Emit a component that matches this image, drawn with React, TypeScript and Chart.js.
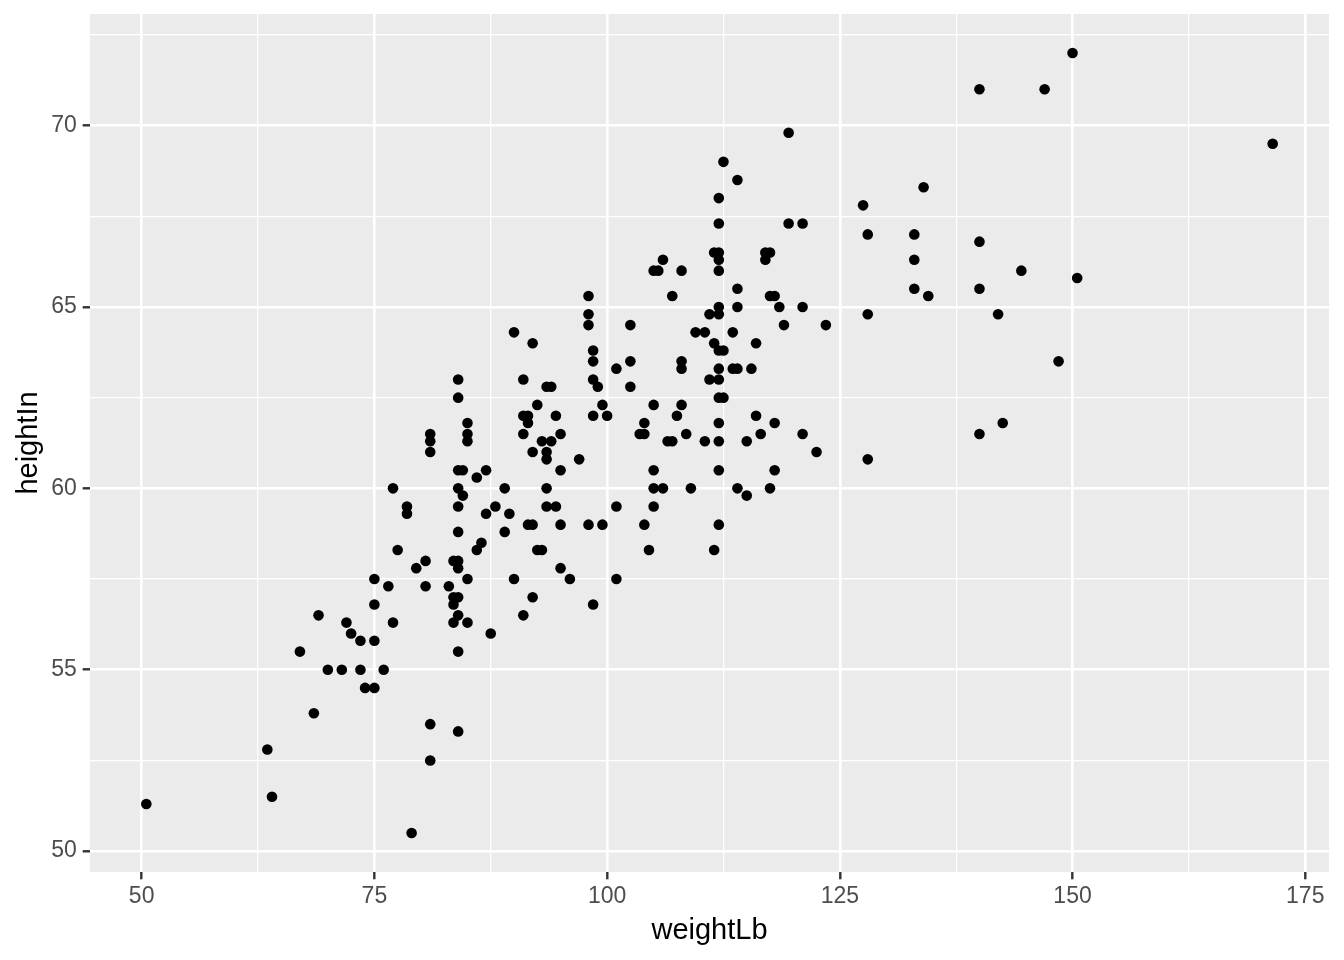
import React, { useEffect, useRef } from 'react';
import { Chart, registerables } from 'chart.js';

Chart.register(...registerables);

const weightLb: number[] = [
  50.5, 63.5, 64, 67, 68.5, 69, 70, 71.5, 72, 72.5, 73.5, 73.5, 74, 75, 75, 75, 75, 76, 76.5, 77,
  77, 77.5, 78.5, 78.5, 79, 79.5, 80.5, 80.5, 81, 81, 81, 81, 81,
  84, 84, 85, 85, 85, 84, 84.5, 87, 86, 84, 84.5, 89, 84, 88, 87, 89.5, 84, 89, 86.5, 86,
  83.5, 84, 84, 85, 83, 83.5, 84, 83.5, 84, 83.5, 85, 87.5, 84, 84,
  98, 98, 98, 90, 92, 98.5, 98.5, 101, 91, 98.5, 93.5, 94, 99, 92.5, 99.5, 91, 91.5, 91.5, 94.5, 98.5,
  100, 91, 95, 93, 94,
  92, 93.5, 93.5, 97, 95, 93.5, 93.5, 94.5, 101, 91.5, 92, 95, 98, 99.5, 92.5, 93, 95, 90, 96, 101,
  92, 98.5, 91,
  106, 105, 105.5, 108, 107, 102.5, 109.5, 110.5, 102.5, 108, 108, 102.5, 105, 108, 107.5, 104, 103.5, 104, 108.5, 106.5,
  107, 110.5, 105, 105, 106, 109, 105, 104, 104.5,
  119.5, 112.5, 114, 112, 112, 119.5, 121, 111.5, 112, 112, 117, 117.5, 117, 112, 114, 117.5, 118, 112, 114, 118.5,
  121, 111, 112, 119, 123.5, 113.5, 111.5, 116,
  112, 112.5, 112, 113.5, 114, 115.5, 111, 112, 112, 112.5, 116, 112, 118, 116.5, 121, 112, 115, 122.5, 112, 118,
  114, 115, 117.5, 112, 111.5,
  150, 140, 147, 134, 127.5, 128, 133, 140, 133, 144.5, 150.5, 133, 134.5, 140, 128, 142, 148.5, 142.5, 140, 128,
  171.5,
];

const heightIn: number[] = [
  51.3, 52.8, 51.5, 55.5, 53.8, 56.5, 55, 55, 56.3, 56, 55.8, 55, 54.5, 54.5, 55.8, 56.8, 57.5, 55, 57.3, 56.3,
  60, 58.3, 59.5, 59.3, 50.5, 57.8, 58, 57.3, 61.5, 61.3, 61, 53.5, 52.5,
  63, 62.5, 61.8, 61.5, 61.3, 60.5, 60.5, 60.5, 60.3, 60, 59.8, 60, 59.5, 59.5, 59.3, 59.3, 58.8, 58.8, 58.5, 58.3,
  58, 58, 57.8, 57.5, 57.3, 57, 57, 56.8, 56.5, 56.3, 56.3, 56, 55.5, 53.3,
  65.3, 64.8, 64.5, 64.3, 64, 63.8, 63.5, 63.3, 63, 63, 62.8, 62.8, 62.8, 62.3, 62.3, 62, 62, 61.8, 62, 62,
  62, 61.5, 61.5, 61.3, 61.3,
  61, 61, 60.8, 60.8, 60.5, 60, 59.5, 59.5, 59.5, 59, 59, 59, 59, 59, 58.3, 58.3, 57.8, 57.5, 57.5, 57.5,
  57, 56.8, 56.5,
  66.3, 66, 66, 66, 65.3, 64.5, 64.3, 64.3, 63.5, 63.5, 63.3, 62.8, 62.3, 62.3, 62, 61.8, 61.5, 61.5, 61.5, 61.3,
  61.3, 61.3, 60.5, 60, 60, 60, 59.5, 59, 58.3,
  69.8, 69, 68.5, 68, 67.3, 67.3, 67.3, 66.5, 66.5, 66.3, 66.5, 66.5, 66.3, 66, 65.5, 65.3, 65.3, 65, 65, 65,
  65, 64.8, 64.8, 64.5, 64.5, 64.3, 64, 64,
  63.8, 63.8, 63.3, 63.3, 63.3, 63.3, 63, 63, 62.5, 62.5, 62, 61.8, 61.8, 61.5, 61.5, 61.3, 61.3, 61, 60.5, 60.5,
  60, 59.8, 60, 59, 58.3,
  72, 71, 71, 68.3, 67.8, 67, 67, 66.8, 66.3, 66, 65.8, 65.5, 65.3, 65.5, 64.8, 64.8, 63.5, 61.8, 61.5, 60.8,
  69.5,
];

const xBreaks: number[] = [50, 62.5, 75, 87.5, 100, 112.5, 125, 137.5, 150, 162.5, 175];
const xMajor: number[] = [50, 75, 100, 125, 150, 175];
const yBreaks: number[] = [50, 52.5, 55, 57.5, 60, 62.5, 65, 67.5, 70, 72.5];
const yMajor: number[] = [50, 55, 60, 65, 70];

const xTitle = 'weightLb';
const yTitle = 'heightIn';

function expandRange(values: number[]): [number, number] {
  const lo = Math.min(...values);
  const hi = Math.max(...values);
  const pad = (hi - lo) * 0.05;
  return [lo - pad, hi + pad];
}

const panelBg = {
  id: 'panelBg',
  beforeDraw(chart: any) {
    const { ctx, chartArea } = chart;
    if (!chartArea) return;
    ctx.save();
    ctx.fillStyle = '#EBEBEB';
    ctx.fillRect(chartArea.left, chartArea.top, chartArea.right - chartArea.left, chartArea.bottom - chartArea.top);
    ctx.restore();
  },
};

export default function App() {
  const ref = useRef<HTMLCanvasElement | null>(null);

  useEffect(() => {
    if (!ref.current) return;
    Chart.defaults.font.family = '"Liberation Sans", Arial, sans-serif';
    const [xMin, xMax] = expandRange(weightLb);
    const [yMin, yMax] = expandRange(heightIn);
    const points = weightLb.map((w, i) => ({ x: w, y: heightIn[i] }));

    const gridFor = (major: number[]) => ({
      color: '#FFFFFF',
      lineWidth: (c: any) => (c.tick && major.includes(c.tick.value) ? 2.6 : 1.3),
      tickColor: (c: any) => (c.tick && major.includes(c.tick.value) ? '#333333' : 'rgba(0,0,0,0)'),
      tickWidth: 2.4,
      tickLength: 7.3,
      drawTicks: true,
    });

    const chart = new Chart(ref.current, {
      type: 'scatter',
      data: {
        datasets: [
          {
            data: points,
            backgroundColor: '#000000',
            borderWidth: 0,
            pointRadius: 5.3,
            pointHoverRadius: 5.3,
          },
        ],
      },
      options: {
        responsive: false,
        devicePixelRatio: 1,
        animation: false,
        layout: { padding: { top: 14, right: 15, left: 0, bottom: 0 } },
        plugins: {
          legend: { display: false },
          tooltip: { enabled: false },
        },
        scales: {
          x: {
            type: 'linear',
            min: xMin,
            max: xMax,
            afterBuildTicks: (scale: any) => {
              scale.ticks = xBreaks.map((v) => ({ value: v }));
            },
            afterFit: (scale: any) => {
              scale.height = 88;
              scale.paddingLeft = 0;
              scale.paddingRight = 0;
            },
            border: { display: false },
            grid: gridFor(xMajor),
            ticks: {
              autoSkip: false,
              maxRotation: 0,
              minRotation: 0,
              padding: 5.9,
              color: '#4D4D4D',
              font: { size: 23, lineHeight: 1 },
              callback: (v: any) => (xMajor.includes(Number(v)) ? String(v) : ''),
            },
            title: {
              display: true,
              text: xTitle,
              color: '#000000',
              font: { size: 29, lineHeight: 1.2 },
              padding: { top: 0, bottom: 12 },
            },
          },
          y: {
            type: 'linear',
            min: yMin,
            max: yMax,
            afterBuildTicks: (scale: any) => {
              scale.ticks = yBreaks.map((v) => ({ value: v }));
            },
            afterFit: (scale: any) => {
              scale.width = 90;
              scale.paddingTop = 0;
              scale.paddingBottom = 0;
            },
            border: { display: false },
            grid: gridFor(yMajor),
            ticks: {
              autoSkip: false,
              padding: 5.9,
              color: '#4D4D4D',
              font: { size: 23, lineHeight: 1 },
              callback: (v: any) => (yMajor.includes(Number(v)) ? String(v) : ''),
            },
            title: {
              display: true,
              text: yTitle,
              color: '#000000',
              font: { size: 29, lineHeight: 1.2 },
              padding: { top: 12, bottom: 0 },
            },
          },
        },
      },
      plugins: [panelBg],
    } as any);

    return () => chart.destroy();
  }, []);

  return (
    <div style={{ position: 'absolute', left: 0, top: 0, width: 1344, height: 960, background: '#FFFFFF' }}>
      <canvas ref={ref} width={1344} height={960} style={{ display: 'block', width: 1344, height: 960 }} />
    </div>
  );
}
